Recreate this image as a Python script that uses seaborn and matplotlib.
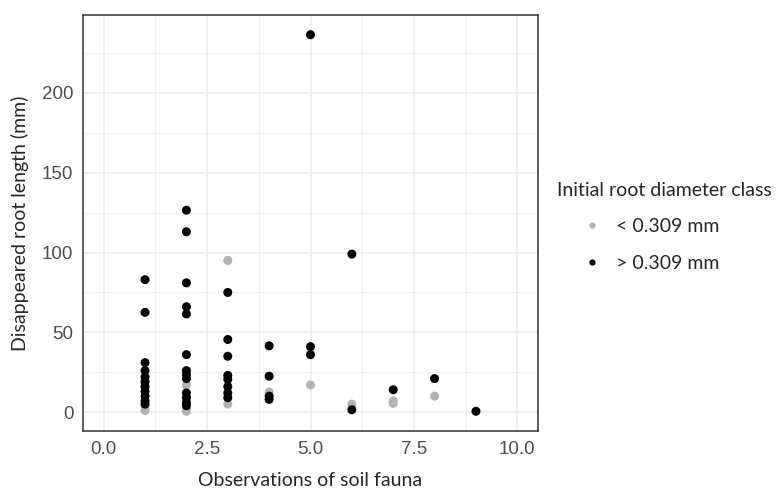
import matplotlib
matplotlib.use("Agg")
import matplotlib.pyplot as plt
from matplotlib.lines import Line2D
from matplotlib.ticker import MultipleLocator, FormatStrFormatter
import pandas as pd
import seaborn as sns

CLASSES = ["< 0.309 mm", "> 0.309 mm"]
PALETTE = {"< 0.309 mm": "#b3b3b3", "> 0.309 mm": "#000000"}

# thin roots (< 0.309 mm)
thin_obs = [1, 1, 2, 2, 2, 3, 3, 4, 5, 6, 7, 7, 8]
thin_len = [1, 3, 17, 2, 0.5, 95, 5, 12.5, 17, 5, 7, 5.5, 10]

# thick roots (> 0.309 mm)
thick_obs = [1, 1, 1, 1, 1, 1, 1, 1, 1, 1, 1,
             2, 2, 2, 2, 2, 2, 2, 2, 2, 2, 2, 2, 2,
             3, 3, 3, 3, 3, 3, 3, 3,
             4, 4, 4, 4,
             5, 5, 5,
             6, 6,
             7, 8, 9]
thick_len = [83, 62.5, 31, 26, 22, 19, 16, 13, 10, 7, 5,
             126.5, 113, 81, 66, 61.5, 36, 26, 23.5, 21, 12, 9, 6, 4,
             75, 45.5, 35, 23, 20.5, 16, 12, 9,
             41.5, 22.5, 10, 8,
             236.5, 41, 36,
             99, 1.5,
             14, 21, 0.5]

df = pd.concat([
    pd.DataFrame({"obs": thin_obs, "length": thin_len, "cls": CLASSES[0]}),
    pd.DataFrame({"obs": thick_obs, "length": thick_len, "cls": CLASSES[1]}),
], ignore_index=True)

sns.set_style("white")
plt.rcParams["font.family"] = ["Liberation Sans", "DejaVu Sans"]
TITLE_FONT = ["Lato", "DejaVu Sans"]

W, H = 779, 495
fig = plt.figure(figsize=(W / 100, H / 100), dpi=100)
ax = fig.add_axes([83 / W, 1 - 431 / H, (538 - 83) / W, (431 - 15) / H])

sns.scatterplot(data=df, x="obs", y="length", hue="cls", hue_order=CLASSES,
                palette=PALETTE, s=42, linewidth=0, legend=False, ax=ax, zorder=3)

ax.set_xlim(-0.5, 10.5)
ax.set_ylim(-11.85, 248.85)
ax.xaxis.set_major_locator(MultipleLocator(2.5))
ax.xaxis.set_minor_locator(MultipleLocator(1.25))
ax.yaxis.set_major_locator(MultipleLocator(50))
ax.yaxis.set_minor_locator(MultipleLocator(25))
ax.xaxis.set_major_formatter(FormatStrFormatter("%.1f"))
ax.yaxis.set_major_formatter(FormatStrFormatter("%d"))

ax.grid(which="major", color="#ebebeb", linewidth=1.1)
ax.grid(which="minor", color="#ebebeb", linewidth=0.55)
ax.set_axisbelow(True)
ax.tick_params(which="minor", length=0)
ax.tick_params(which="major", length=4, width=0.8, color="#333333",
               labelcolor="#4d4d4d", labelsize=13.5, pad=3)
for sp in ax.spines.values():
    sp.set_color("#333333")
    sp.set_linewidth(1.1)

ax.set_xlabel("Observations of soil fauna", fontsize=14, family=TITLE_FONT, labelpad=10)
ax.set_ylabel("Disappeared root length (mm)", fontsize=14, family=TITLE_FONT, labelpad=9)

handles = [Line2D([], [], linestyle="", marker="o", markersize=4.5,
                  markerfacecolor=PALETTE[c], markeredgewidth=0) for c in CLASSES]
leg = fig.legend(handles, CLASSES, loc="upper left", bbox_to_anchor=(549 / W, 1 - 174 / H),
                 frameon=False, title="Initial root diameter class",
                 prop={"family": TITLE_FONT, "size": 14},
                 title_fontproperties={"family": TITLE_FONT, "size": 14},
                 labelspacing=1.0, handlelength=3.65, handletextpad=-0.6,
                 borderaxespad=0)
leg._legend_box.align = "left"

fig.savefig("out.png", dpi=100)
